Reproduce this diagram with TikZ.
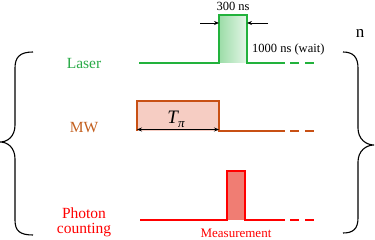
\documentclass[tikz,border=0pt]{standalone}
\usepackage{fontspec}
\setmainfont{Liberation Serif}
\usetikzlibrary{arrows.meta}
\definecolor{lasergreen}{RGB}{34,178,60}
\definecolor{lasertext}{RGB}{40,170,70}
\definecolor{mwline}{RGB}{200,80,20}
\definecolor{mwtext}{RGB}{195,95,30}
\definecolor{mwfill}{RGB}{246,205,195}
\definecolor{pcred}{RGB}{255,0,0}
\definecolor{pcfill}{RGB}{240,125,115}
\tikzset{
  wave/.style={line width=1.5pt},
  dashwave/.style={line width=1.5pt, dash pattern=on 9pt off 6pt},
  lbl/.style={font=\fontsize{15.5}{17}\selectfont, align=center, inner sep=0pt},
  small/.style={font=\fontsize{12.5}{14}\selectfont, inner sep=0pt},
  dimarrow/.style={-{Stealth[length=5pt,width=4pt]}, line width=0.8pt, black},
  brace/.style={line width=1.1pt, black}
}
\begin{document}
\begin{tikzpicture}[x=1pt,y=-1pt]
\useasboundingbox (0,0) rectangle (375,240);

% labels
\node[lbl, text=lasertext] (laser) at (84,64) {Laser};
\node[lbl, text=mwtext] (mw) at (84,128) {MW};
\node[lbl, text=pcred] (pc) at (84,222) {Photon\\[-2pt]counting};

% laser waveform
\coordinate (l0) at (139,63);
\coordinate (l1) at (219,63);
\coordinate (l2) at (219,15);
\coordinate (l3) at (247,15);
\coordinate (l4) at (247,63);
\coordinate (l5) at (285,63);
\coordinate (l6) at (318,63);
\shade[left color=lasergreen!45, right color=lasergreen!12] (l1) rectangle (l3);
\draw[wave, lasergreen] (l0) -- (l1) -- (l2) -- (l3) -- (l4) -- (l5);
\draw[dashwave, lasergreen] (l5) ++(5,0) -- (l6);

% 300 ns arrows
\coordinate (a1) at (200,23);
\coordinate (a2) at (268,23);
\draw[dimarrow] (a1) -- (l1 |- a1);
\draw[dimarrow] (a2) -- (l4 |- a2);
\node[small] (t300) at (233,6) {300 ns};
\node[small, anchor=west] (t1000) at (252,49) {1000 ns (wait)};

% MW waveform
\coordinate (m0) at (137,131);
\coordinate (m1) at (137,101);
\coordinate (m2) at (219,101);
\coordinate (m3) at (219,131);
\coordinate (m4) at (285,131);
\coordinate (m5) at (318,131);
\fill[mwfill] (m0) rectangle (m2);
\draw[wave, mwline] (m0) -- (m1) -- (m2) -- (m3) -- (m4);
\draw[dashwave, mwline] (m4) ++(5,0) -- (m5);
\draw[{Stealth[length=5pt,width=4pt]}-{Stealth[length=5pt,width=4pt]}, line width=0.8pt] ([yshift=1.5pt]m0) -- ([yshift=1.5pt]m3);
\node[font=\fontsize{19}{21}\selectfont, inner sep=0pt] (tpi) at (176,119) {\itshape T\raisebox{-4pt}{\fontsize{13}{14}\selectfont π}};

% photon counting waveform
\coordinate (p0) at (140,220);
\coordinate (p1) at (227,220);
\coordinate (p2) at (227,171);
\coordinate (p3) at (245,171);
\coordinate (p4) at (245,220);
\coordinate (p5) at (285,220);
\coordinate (p6) at (318,220);
\fill[pcfill] (p1) rectangle (p3);
\draw[wave, pcred] (p0) -- (p1) -- (p2) -- (p3) -- (p4) -- (p5);
\draw[dashwave, pcred] (p5) ++(5,0) -- (p6);
\node[text=pcred, font=\fontsize{13}{15}\selectfont, inner sep=0pt] (meas) at (236,233) {Measurement};

% n
\node[font=\fontsize{17}{19}\selectfont, inner sep=0pt] (n) at (360,33) {n};

% left brace
\coordinate (lb1) at (33,52);
\coordinate (lb2) at (0,142);
\coordinate (lb3) at (33,235);
\draw[brace] (lb1) .. controls (20,52) and (15,57) .. (15,68)
  -- (15,125) .. controls (15,136) and (8,142) .. (lb2)
  .. controls (8,142) and (15,148) .. (15,159)
  -- (15,220) .. controls (15,231) and (20,235) .. (lb3);

% right brace
\coordinate (rb1) at (343,52);
\coordinate (rb2) at (374,145);
\coordinate (rb3) at (343,233);
\draw[brace] (rb1) .. controls (353,52) and (358,57) .. (358,68)
  -- (358,128) .. controls (358,139) and (366,145) .. (rb2)
  .. controls (366,145) and (358,151) .. (358,162)
  -- (358,218) .. controls (358,229) and (353,233) .. (rb3);
\end{tikzpicture}
\end{document}
